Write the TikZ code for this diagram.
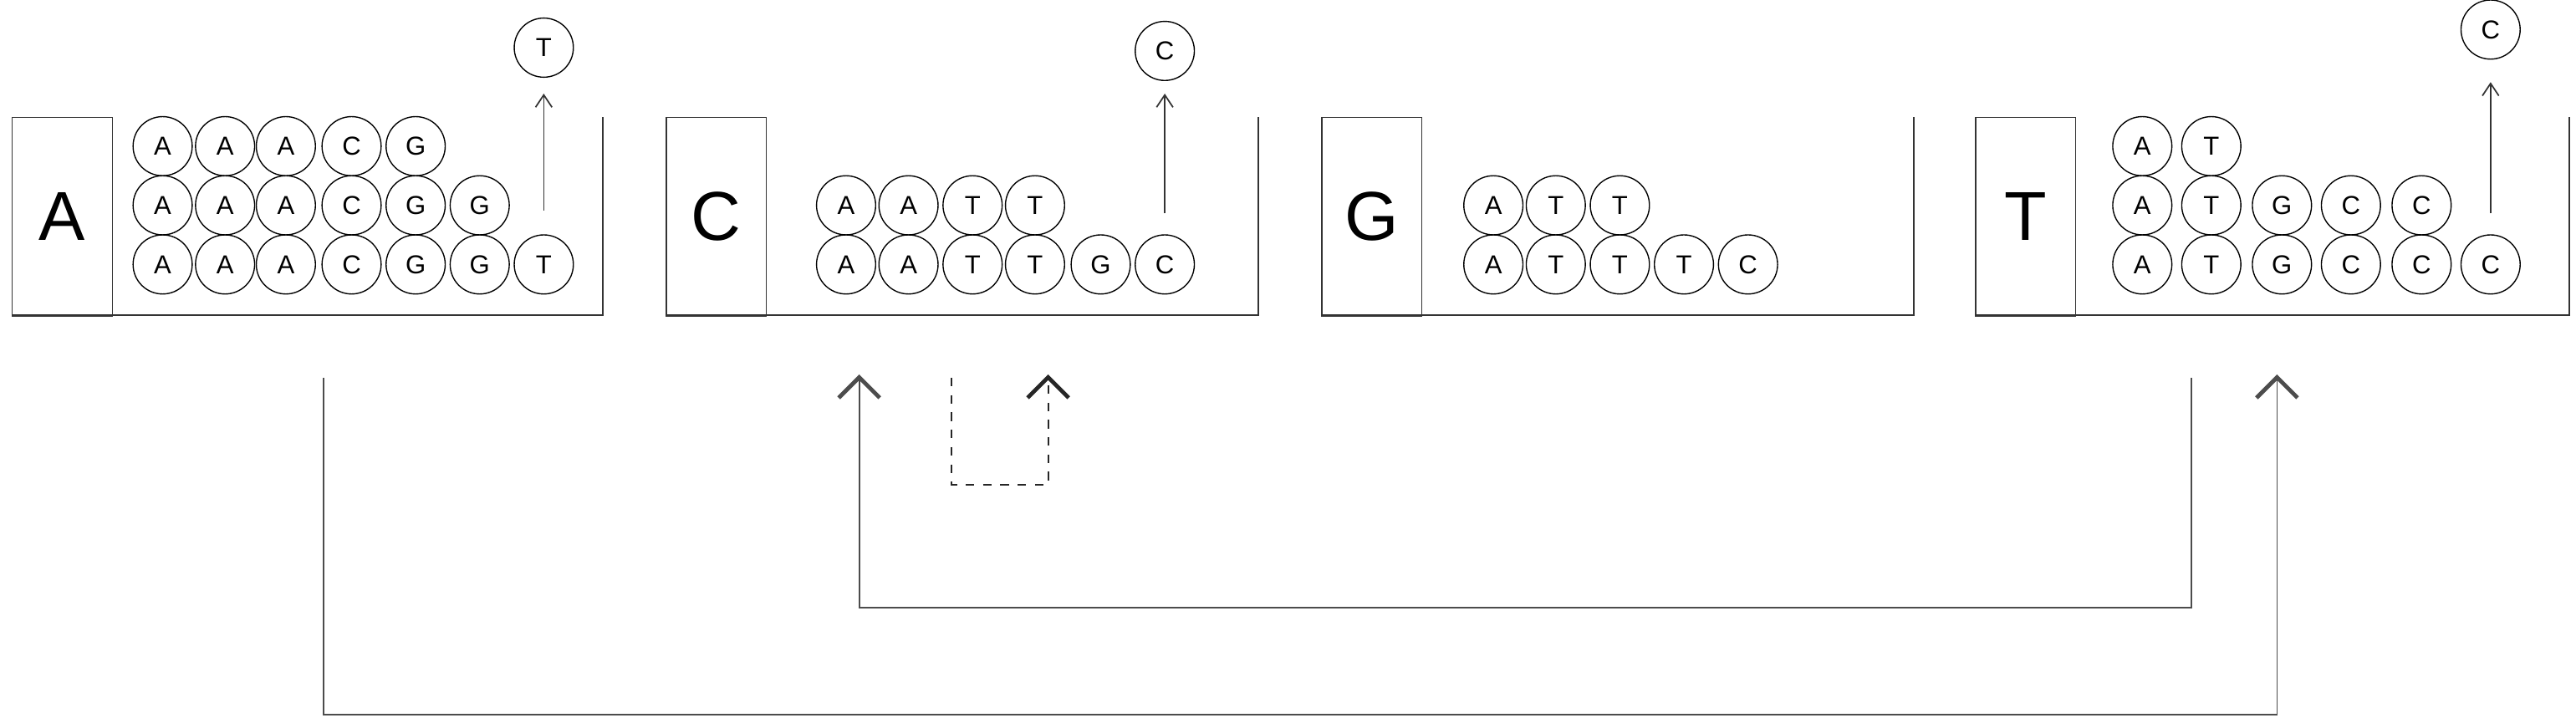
\documentclass[tikz,border=0pt]{standalone}
\usepackage{fontspec}
\setmainfont{Liberation Sans}
\usetikzlibrary{arrows.meta}
\tikzset{
  base/.style={circle,draw=black,thin,minimum size=0.72cm,inner sep=0pt,font=\fontsize{9}{9}\selectfont},
  wall/.style={draw=black!80,line width=0.5pt},
  lab/.style={draw=black!80,line width=0.5pt,rectangle,anchor=north west,minimum width=1.22cm,minimum height=2.42cm,font=\fontsize{24}{24}\selectfont},
  pop/.style={-{Straight Barb[length=1.5mm,width=2mm]},draw=black!80,line width=0.5pt},
  link/.style={-{Straight Barb[length=2.5mm,width=5mm,line width=1.4pt]},draw=black!70,line width=0.5pt}
}
\begin{document}
\begin{tikzpicture}[x=0.02cm,y=-0.02cm]
\useasboundingbox (0,0) rectangle (1568,440);
% buckets
\foreach \nm/\x/\r in {A/7/367,C/405/766,G/804/1165,T/1202/1564}{
  \node[lab] (box\nm) at (\x,71) {\nm};
  \draw[wall] (\x,192) -- (\r,192) -- (\r,71);
}
% A bucket
\foreach \c/\x in {A/99,A/137,A/174,C/214,G/253}{\node[base] (a1\x) at (\x,89) {\c};}
\foreach \c/\x in {A/99,A/137,A/174,C/214,G/253,G/292}{\node[base] (a2\x) at (\x,125) {\c};}
\foreach \c/\x in {A/99,A/137,A/174,C/214,G/253,G/292,T/331}{\node[base] (a3\x) at (\x,161) {\c};}
\node[base] (outA) at (331,29) {T};
\coordinate (sA) at (331,128);
\draw[pop] (sA) -- (outA.south |- 0,57);
% C bucket
\foreach \c/\x in {A/515,A/553,T/592,T/630}{\node[base] (c1\x) at (\x,125) {\c};}
\foreach \c/\x in {A/515,A/553,T/592,T/630,G/670,C/709}{\node[base] (c2\x) at (\x,161) {\c};}
\node[base] (outC) at (709,31) {C};
\coordinate (sC) at (709,130);
\draw[pop] (sC) -- (outC.south |- 0,57);
% G bucket
\foreach \c/\x in {A/909,T/947,T/986}{\node[base] (g1\x) at (\x,125) {\c};}
\foreach \c/\x in {A/909,T/947,T/986,T/1025,C/1064}{\node[base] (g2\x) at (\x,161) {\c};}
% T bucket
\foreach \c/\x in {A/1304,T/1346}{\node[base] (t1\x) at (\x,89) {\c};}
\foreach \c/\x in {A/1304,T/1346,G/1389,C/1431,C/1474}{\node[base] (t2\x) at (\x,125) {\c};}
\foreach \c/\x in {A/1304,T/1346,G/1389,C/1431,C/1474,C/1516}{\node[base] (t3\x) at (\x,161) {\c};}
\node[base] (outT) at (1516,18) {C};
\coordinate (sT) at (1516,130);
\draw[pop] (sT) -- (outT.south |- 0,50);
% links
\coordinate (l1s) at (197,230); \coordinate (l1e) at (1386,228);
\draw[link] (l1s) -- (197,435) -- (1386,435) -- (l1e);
\coordinate (l2s) at (1334,230); \coordinate (l2e) at (523,228);
\draw[link] (l2s) -- (1334,370) -- (523,370) -- (l2e);
\coordinate (l3s) at (579,230); \coordinate (l3e) at (638,228);
\draw[link,dashed,draw=black!85] (l3s) -- (579,295) -- (638,295) -- (l3e);
\end{tikzpicture}
\end{document}
